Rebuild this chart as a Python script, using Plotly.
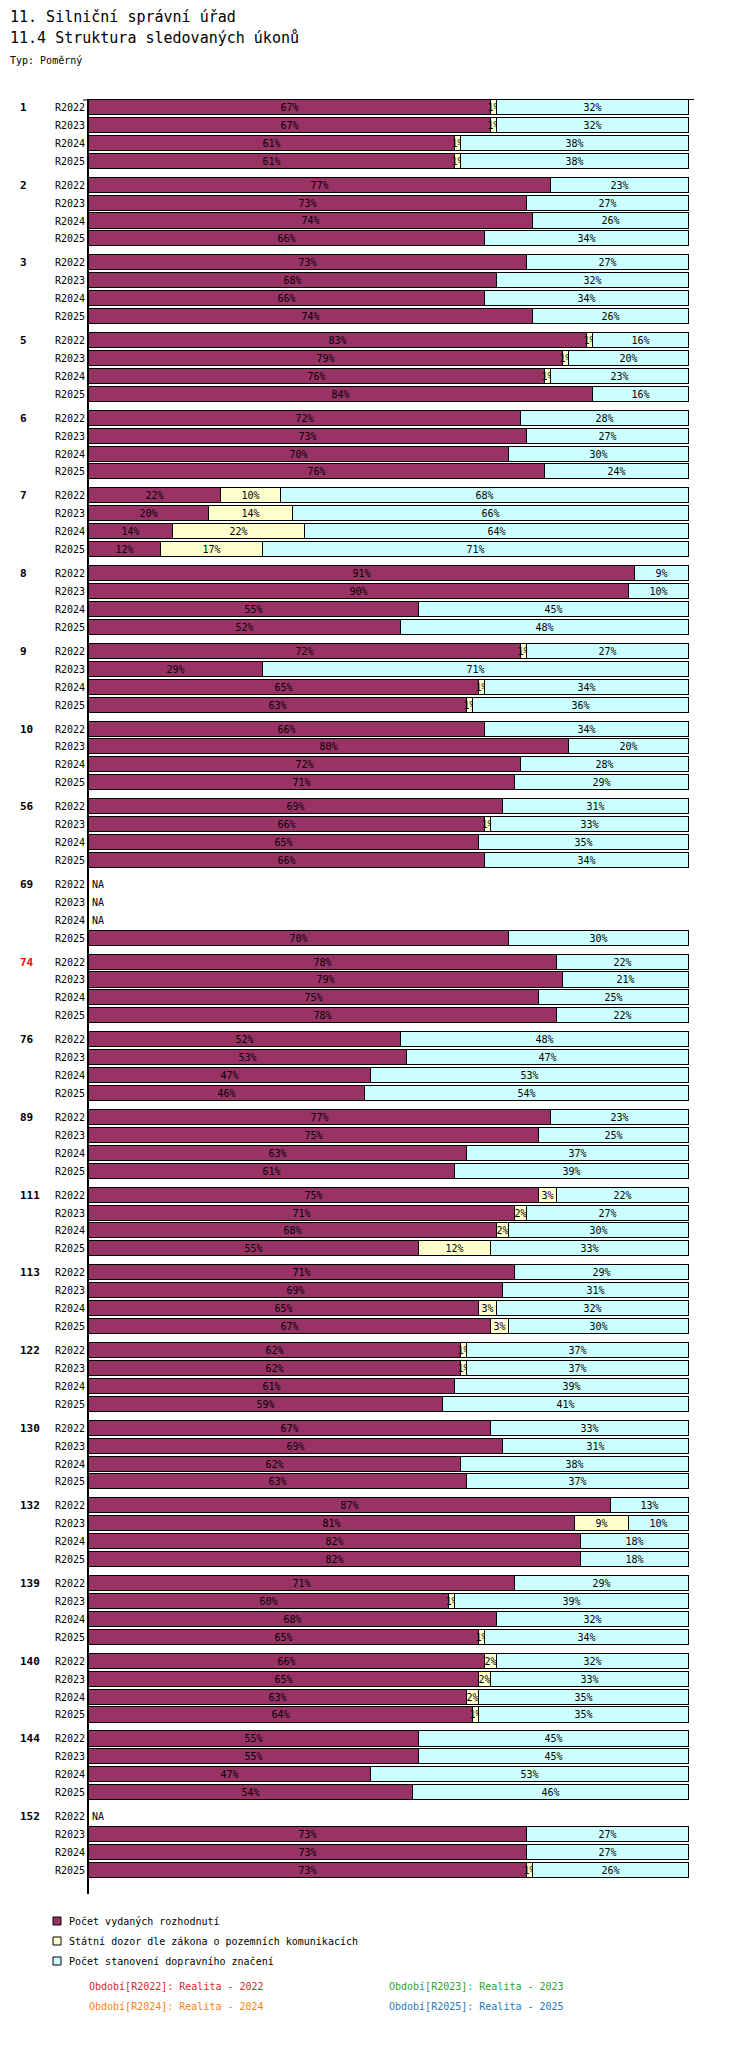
import plotly.graph_objects as go

# data (percent shares per period)
groups = ["1", "2", "3", "5", "6", "7", "8", "9", "10", "56", "69", "74",
          "76", "89", "111", "113", "122", "130", "132", "139", "140", "144", "152"]
periods = ["R2022", "R2023", "R2024", "R2025"]
highlight = "74"

rozhodnuti = [
    [67, 67, 61, 61], [77, 73, 74, 66], [73, 68, 66, 74], [83, 79, 76, 84],
    [72, 73, 70, 76], [22, 20, 14, 12], [91, 90, 55, 52], [72, 29, 65, 63],
    [66, 80, 72, 71], [69, 66, 65, 66], [None, None, None, 70], [78, 79, 75, 78],
    [52, 53, 47, 46], [77, 75, 63, 61], [75, 71, 68, 55], [71, 69, 65, 67],
    [62, 62, 61, 59], [67, 69, 62, 63], [87, 81, 82, 82], [71, 60, 68, 65],
    [66, 65, 63, 64], [55, 55, 47, 54], [None, 73, 73, 73],
]
dozor = [
    [1, 1, 1, 1], [0, 0, 0, 0], [0, 0, 0, 0], [1, 1, 1, 0],
    [0, 0, 0, 0], [10, 14, 22, 17], [0, 0, 0, 0], [1, 0, 1, 1],
    [0, 0, 0, 0], [0, 1, 0, 0], [None, None, None, 0], [0, 0, 0, 0],
    [0, 0, 0, 0], [0, 0, 0, 0], [3, 2, 2, 12], [0, 0, 3, 3],
    [1, 1, 0, 0], [0, 0, 0, 0], [0, 9, 0, 0], [0, 1, 0, 1],
    [2, 2, 2, 1], [0, 0, 0, 0], [None, 0, 0, 1],
]
znaceni = [
    [32, 32, 38, 38], [23, 27, 26, 34], [27, 32, 34, 26], [16, 20, 23, 16],
    [28, 27, 30, 24], [68, 66, 64, 71], [9, 10, 45, 48], [27, 71, 34, 36],
    [34, 20, 28, 29], [31, 33, 35, 34], [None, None, None, 30], [22, 21, 25, 22],
    [48, 47, 53, 54], [23, 25, 37, 39], [22, 27, 30, 33], [29, 31, 32, 30],
    [37, 37, 39, 41], [33, 31, 38, 37], [13, 10, 18, 18], [29, 39, 32, 34],
    [32, 33, 35, 35], [45, 45, 53, 46], [None, 27, 27, 26],
]

series = [
    ("Počet vydaných rozhodnutí", rozhodnuti, "#993366"),
    ("Státní dozor dle zákona o pozemních komunikacích", dozor, "#FFFFCC"),
    ("Počet stanovení dopravního značení", znaceni, "#CCFFFF"),
]
period_notes = [
    ("Období[R2022]: Realita - 2022", "#d62728"),
    ("Období[R2023]: Realita - 2023", "#2ca02c"),
    ("Období[R2024]: Realita - 2024", "#ff7f0e"),
    ("Období[R2025]: Realita - 2025", "#1f77b4"),
]

W, H = 750, 2056
L, R, T, B = 81, 64, 92, 170
PW, PH = W - L - R, H - T - B
GROUP_STEP = 4.34
MONO = "DejaVu Sans Mono"


def pos(g, r):
    return g * GROUP_STEP + r


def px(x, y):
    # figure pixels -> paper coordinates
    return (x - L) / PW, 1 - (y - T) / PH


ys, labels = [], []
for g in range(len(groups)):
    for r, p in enumerate(periods):
        ys.append(pos(g, r))
        labels.append(p)

fig = go.Figure()
for name, vals, color in series:
    xs = [v for grp in vals for v in grp]
    txt = ["" if (v is None or v == 0) else f"{v}%" for v in xs]
    fig.add_trace(go.Bar(
        name=name, orientation="h", y=ys, x=xs, width=0.84,
        marker=dict(color=color, line=dict(color="black", width=1)),
        text=txt, textposition="inside", insidetextanchor="middle",
        textangle=0, constraintext="none",
        textfont=dict(family=MONO, size=10, color="black"),
        hoverinfo="skip", showlegend=False,
    ))

ann = []
shapes = []
for g, name in enumerate(groups):
    ax, _ = px(10, 0)
    ann.append(dict(x=ax, xref="paper", y=pos(g, 0), yref="y", text=f"<b>{name}</b>",
                    showarrow=False, xanchor="left",
                    font=dict(family=MONO, size=11, color="red" if name == highlight else "black")))
    for r in range(len(periods)):
        if rozhodnuti[g][r] is None:
            ann.append(dict(x=0, xref="x", y=pos(g, r), yref="y", text="NA", showarrow=False,
                            xanchor="left", xshift=1, font=dict(family=MONO, size=10, color="black")))

for text, x, y, size in [("11. Silniční správní úřad", 0, 9, 15),
                         ("11.4 Struktura sledovaných úkonů", 0, 30, 15),
                         ("Typ: Poměrný", 0, 52, 10)]:
    ax, ay = px(x, y)
    ann.append(dict(x=ax, y=ay, xref="paper", yref="paper", text=text, showarrow=False,
                    xanchor="left", yanchor="middle", font=dict(family=MONO, size=size, color="black")))

# legend drawn by hand so the swatches stay small like the original
for i, (name, _, color) in enumerate(series):
    cy = 1913 + 20 * i
    x0, y0 = px(45, cy - 4)
    x1, y1 = px(53, cy + 4)
    shapes.append(dict(type="rect", xref="paper", yref="paper", x0=x0, x1=x1, y0=y0, y1=y1,
                       fillcolor=color, line=dict(color="black", width=1)))
    ax, ay = px(59, cy)
    ann.append(dict(x=ax, y=ay, xref="paper", yref="paper", text=name, showarrow=False,
                    xanchor="left", yanchor="middle", font=dict(family=MONO, size=10, color="black")))

for i, (text, color) in enumerate(period_notes):
    ax, ay = px(79 + 300 * (i % 2), 1978 + 20 * (i // 2))
    ann.append(dict(x=ax, y=ay, xref="paper", yref="paper", text=text, showarrow=False,
                    xanchor="left", yanchor="middle", font=dict(family=MONO, size=10, color=color)))

# little stub of the top axis line left of the y axis
sx0, sy = px(75, T)
shapes.append(dict(type="line", xref="paper", yref="paper", x0=sx0, x1=0, y0=1, y1=1,
                   line=dict(color="black", width=1)))

fig.update_layout(
    width=W, height=H, barmode="stack", bargap=0,
    margin=dict(l=L, r=R, t=T, b=B, autoexpand=False),
    plot_bgcolor="white", paper_bgcolor="white",
    font=dict(family=MONO, size=10, color="black"),
    annotations=ann, shapes=shapes, showlegend=False,
)
fig.update_xaxes(range=[0, 100.83], side="top", showline=True, linecolor="black", linewidth=1,
                 showgrid=False, zeroline=False, showticklabels=False, ticks="", fixedrange=True)
fig.update_yaxes(range=[pos(len(groups) - 1, 3) + 1.32, -0.42], tickvals=ys, ticktext=labels,
                 showline=True, linecolor="black", linewidth=2, showgrid=False, zeroline=False,
                 ticks="", tickfont=dict(family=MONO, size=10), fixedrange=True)

fig.write_html("out.html")
